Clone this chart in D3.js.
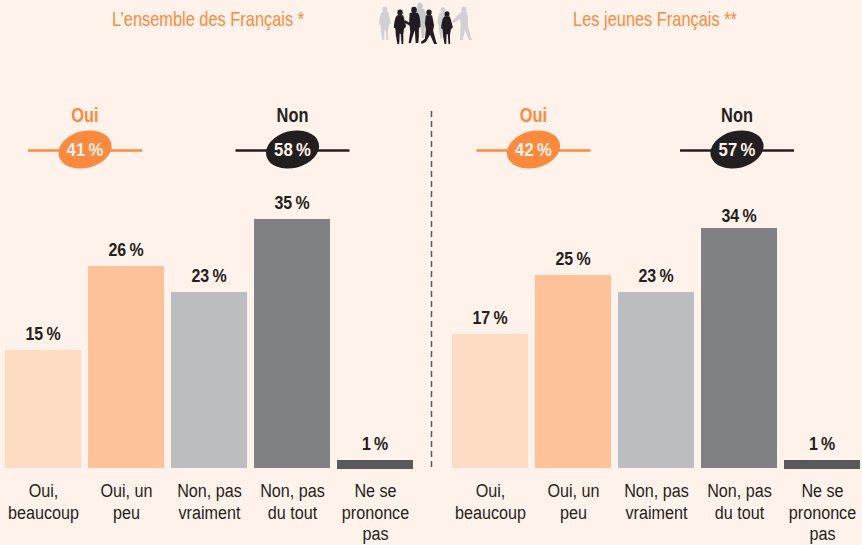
<!DOCTYPE html>
<html>
<head>
<meta charset="utf-8">
<script src="https://cdn.jsdelivr.net/npm/d3@7"></script>
<style>
html, body { margin: 0; padding: 0; background: #fff2ea; }
svg { display: block; }
text { font-family: "Liberation Sans", sans-serif; }
</style>
</head>
<body>
<div id="chart"></div>
<script>
var width = 862;
var height = 545;

var categories = ["Oui, beaucoup", "Oui, un peu", "Non, pas vraiment", "Non, pas du tout", "Ne se prononce pas"];
var categoryLines = [["Oui,", "beaucoup"], ["Oui, un", "peu"], ["Non, pas", "vraiment"], ["Non, pas", "du tout"], ["Ne se", "prononce", "pas"]];
var barColors = ["#fedcc3", "#fec29a", "#bcbdc0", "#808184", "#58595b"];

var titles = ["L\u2019ensemble des Fran\u00e7ais *", "Les jeunes Fran\u00e7ais **"];
var valuesAll = [15, 26, 23, 35, 1];
var valuesYoung = [17, 25, 23, 34, 1];
var ouiTotals = [41, 42];
var nonTotals = [58, 57];

var orange = "#fc8a3e";
var dark = "#231f20";

var svg = d3.select("#chart").append("svg")
	.attr("width", width)
	.attr("height", height);

// the bars in the source are not strictly proportional, so the scale follows the picture
var yScale = d3.scaleLinear()
	.domain([0, 1, 15, 17, 23, 25, 26, 34, 35])
	.range([468, 460, 350, 334, 292, 275, 266, 228, 219]);

function pct(v) { return v + "\u2009%"; }

// the original face is condensed, so squeeze the text horizontally
function squeezed(parent, x, y, size, k, weight, color, str) {
	return parent.append("text")
		.attr("transform", "translate(" + x + "," + y + ") scale(" + k + ",1)")
		.attr("text-anchor", "middle")
		.attr("font-size", size)
		.attr("font-weight", weight)
		.attr("fill", color)
		.text(str);
}

// one panel: bars, value labels, category labels, oui/non badges
function drawPanel(values, x0, title, titleX, oui, non, ouiX, nonX) {
	var xScale = d3.scaleBand()
		.domain(categories)
		.range([x0, x0 + 408])
		.paddingInner(7 / 83)
		.paddingOuter(0);

	var g = svg.append("g");

	g.selectAll("rect")
		.data(values)
		.enter()
		.append("rect")
		.attr("x", function(d, i) { return xScale(categories[i]); })
		.attr("y", function(d) { return yScale(d); })
		.attr("width", xScale.bandwidth())
		.attr("height", function(d) { return d == 1 ? yScale(0) - yScale(d) + 1 : yScale(0) - yScale(d); })
		.attr("fill", function(d, i) { return barColors[i]; });

	values.forEach(function(d, i) {
		var cx = xScale(categories[i]) + xScale.bandwidth() / 2;
		// the 34 % label sits closer to its bar in the source
		var gap = d == 34 ? 6 : 10;
		squeezed(g, cx, yScale(d) - gap, 19, 0.84, "bold", dark, pct(d));
	});

	categoryLines.forEach(function(lines, i) {
		var cx = xScale(categories[i]) + xScale.bandwidth() / 2 + 0.5;
		lines.forEach(function(line, j) {
			squeezed(g, cx, 497 + j * 21.5, 19, 0.85, "normal", dark, line);
		});
	});

	squeezed(svg, titleX, 26, 20, 0.82, "normal", orange, title);

	drawBadge("Oui", oui, ouiX, orange);
	drawBadge("Non", non, nonX, dark);
}

function drawBadge(label, value, cx, color) {
	svg.append("line")
		.attr("x1", cx - 57).attr("x2", cx + 57)
		.attr("y1", 150.5).attr("y2", 150.5)
		.attr("stroke", color)
		.attr("stroke-width", 2.5);

	// slanted egg
	svg.append("ellipse")
		.attr("cx", cx).attr("cy", 149.5)
		.attr("rx", 27).attr("ry", 18.5)
		.attr("transform", "rotate(-14 " + cx + " 149.5)")
		.attr("fill", color);

	squeezed(svg, cx, 155.5, 19, 0.88, "bold", "#fff2ea", pct(value));
	squeezed(svg, cx, 122, 20, 0.82, "bold", color, label);
}

drawPanel(valuesAll, 5, titles[0], 208, ouiTotals[0], nonTotals[0], 85, 292.5);
drawPanel(valuesYoung, 452, titles[1], 655, ouiTotals[1], nonTotals[1], 533.5, 737);

// dashed separator
svg.append("line")
	.attr("x1", 431.5).attr("x2", 431.5)
	.attr("y1", 111).attr("y2", 469)
	.attr("stroke", "#58595b")
	.attr("stroke-width", 1.5)
	.attr("stroke-dasharray", "6 4");

// crowd of silhouettes in the header
var bodies = {
	woman: "M-2.5,-28 C-4.5,-27 -5.5,-22 -6,-16 L-4.5,-15 L-4,-8 L-2.5,0 L-0.8,0 L-0.4,-10 L0.8,-10 L1.5,0 L3.2,0 L3,-9 L4,-15 L6,-17 L3,-28 Z",
	man: "M-4,-28 L3,-28 C5,-27 6,-22 6,-15 L4.5,-14 L4.5,-6 L4,0 L1.5,0 L0.8,-12 L-1.5,-5 L-3,0 L-5,0 L-3.5,-10 L-4,-16 L-9,-19 L-8,-21 L-4.5,-19 Z",
	walker: "M-3,-28 L3,-28 L5,-18 L4,-13 L7,-2 L8,0 L5,0 L1,-9 L-3,-2 L-7,0 L-8,-2 L-4,-5 L-3,-14 L-4,-20 Z",
	arm: "M-3,-28 L3,-28 L4,-22 L4,-14 L7,-2 L8,0 L5,0 L1,-10 L-1,-2 L-1,0 L-4,0 L-3.5,-13 L-3.5,-21 L-11,-17 L-12,-19 Z"
};
var people = [
	{ x: 385, y: 40, s: 1.0, c: "#ced0d2", b: "woman" },
	{ x: 401, y: 41, s: 0.95, c: "#ced0d2", b: "woman" },
	{ x: 420, y: 38, s: 1.05, c: "#c6c8ca", b: "man" },
	{ x: 443, y: 39, s: 0.95, c: "#ced0d2", b: "woman" },
	{ x: 464, y: 40, s: 1.0, c: "#ced0d2", b: "arm" },
	{ x: 400, y: 44, s: 1.03, c: dark, b: "woman" },
	{ x: 414, y: 43, s: 1.08, c: dark, b: "man" },
	{ x: 429, y: 44, s: 1.03, c: dark, b: "walker" },
	{ x: 447, y: 44, s: 0.98, c: dark, b: "woman" }
];
var blur = svg.append("defs").append("filter").attr("id", "soft");
blur.append("feGaussianBlur").attr("stdDeviation", 0.45);
var person = svg.append("g").attr("filter", "url(#soft)").selectAll("g")
	.data(people)
	.enter()
	.append("g")
	.attr("transform", function(d) { return "translate(" + d.x + "," + d.y + ") scale(" + d.s + ")"; })
	.attr("fill", function(d) { return d.c; });
person.append("ellipse").attr("cx", 0).attr("cy", -30.5).attr("rx", 2.6).attr("ry", 3);
person.append("path").attr("d", function(d) { return bodies[d.b]; });
</script>
</body>
</html>
